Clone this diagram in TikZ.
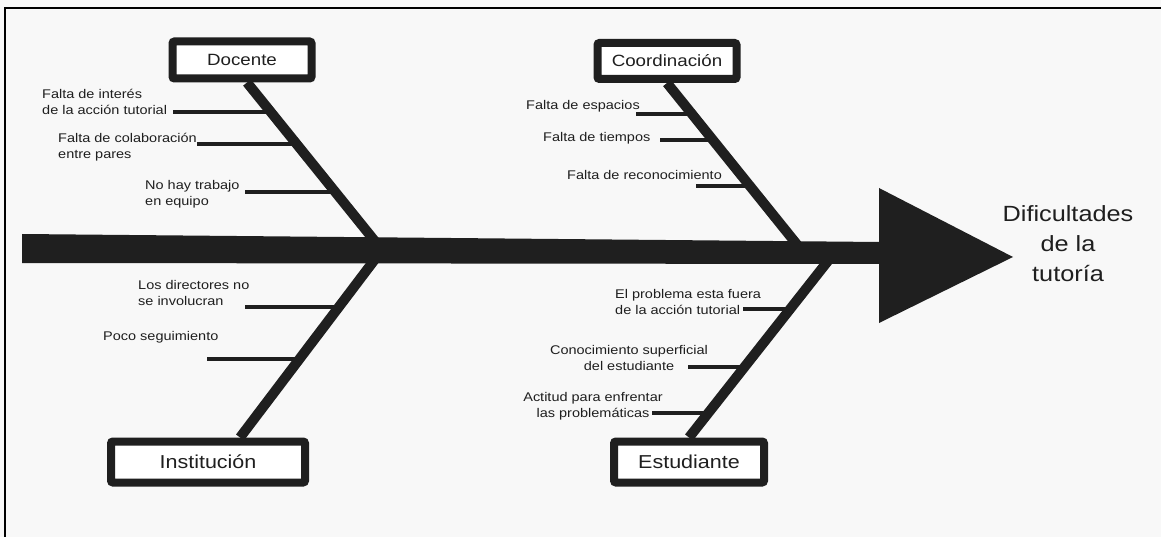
\documentclass[tikz,border=0pt]{standalone}
\usepackage{fontspec}
\setmainfont{Liberation Sans}[FakeStretch=1.15]
\usepackage{tikz}
\usetikzlibrary{calc}
\usetikzlibrary{positioning}
\definecolor{paper}{HTML}{F8F8F8}
\definecolor{ink}{HTML}{1F1F1F}
\tikzset{
    cause/.style={draw=ink, line width=8pt, rounded corners=2pt, fill=white, inner sep=0pt, text=ink},
    bone/.style={draw=ink, line width=10pt},
    twig/.style={draw=ink, line width=4.5pt},
    item/.style={inner sep=0pt, text=ink, font=\fontsize{12.6}{16}\selectfont}
}

\begin{document}
\begin{tikzpicture}[x=10pt,y=-10pt]
            \useasboundingbox (0,0) rectangle (116.1,53.7);
            \fill[paper] (0,0) rectangle (116.1,53.7);
            \draw[line width=2.5pt] (0.5,53.7) -- (0.5,0.8) -- (116.1,0.8);
            % spine and head
            \fill[ink] (2.2,23.4) -- (88,24.2) -- (88,26.4) -- (2.2,26.3) -- cycle;
            \fill[ink] (87.9,18.8) -- (101.3,25.7) -- (87.9,32.3) -- cycle;
            \node[align=center, text=ink, font=\fontsize{22}{30}\selectfont] (eff) at (106.8,24.4) {Dificultades\\de la\\tutoría};
            \coordinate (j1) at (38.2,25.0);
            \coordinate (j2) at (80.3,25.2);
            \coordinate (j3) at (83.5,25.2);
            % causes
            \node[cause, minimum width=139pt, minimum height=37pt, font=\fontsize{16.3}{18}\selectfont] (doc) at (24.2,6.0) {Docente};
            \node[cause, minimum width=139pt, minimum height=36pt, font=\fontsize{16.3}{18}\selectfont] (coo) at (66.7,6.1) {Coordinación};
            \node[cause, minimum width=194pt, minimum height=41pt, font=\fontsize{18.7}{20}\selectfont] (ins) at (20.8,46.2) {Institución};
            \node[cause, minimum width=150pt, minimum height=41pt, font=\fontsize{18.7}{20}\selectfont] (est) at (68.9,46.2) {Estudiante};
            \draw[bone] ($(doc.south)+(0.5,0)$) -- (j1);
            \draw[bone] ($(ins.north)+(3.2,0)$) -- (j1);
            \draw[bone] (coo.south) -- (j2);
            \draw[bone] (est.north) -- (j3);
            % Docente
            \node[item, anchor=west, align=left] (d1t) at (4.2,10.2) {Falta de interés\\de la acción tutorial};
            \node[item, anchor=west, align=left] (d2t) at (5.8,14.7) {Falta de colaboración\\entre pares};
            \node[item, anchor=west, align=left] (d3t) at (14.5,19.4) {No hay trabajo\\en equipo};
            \coordinate (d1a) at (17.3,11.2); \coordinate (d1b) at (27.3,11.2);
            \coordinate (d2a) at (19.7,14.4); \coordinate (d2b) at (29.9,14.4);
            \coordinate (d3a) at (24.5,19.2); \coordinate (d3b) at (33.6,19.2);
            \draw[twig] (d1a) -- (d1b);
            \draw[twig] (d2a) -- (d2b);
            \draw[twig] (d3a) -- (d3b);
            % Coordinacion
            \node[item, anchor=west] (c1t) at (52.6,10.6) {Falta de espacios};
            \node[item, anchor=west] (c2t) at (54.3,13.8) {Falta de tiempos};
            \node[item, anchor=west] (c3t) at (56.7,17.5) {Falta de reconocimiento};
            \coordinate (c1a) at (63.6,11.4); \coordinate (c1b) at (69.4,11.4);
            \coordinate (c2a) at (66.0,14.0); \coordinate (c2b) at (71.5,14.0);
            \coordinate (c3a) at (69.6,18.6); \coordinate (c3b) at (75.1,18.6);
            \draw[twig] (c1a) -- (c1b);
            \draw[twig] (c2a) -- (c2b);
            \draw[twig] (c3a) -- (c3b);
            % Institucion
            \node[item, anchor=west, align=left] (i1t) at (13.8,29.3) {Los directores no\\se involucran};
            \node[item, anchor=west] (i2t) at (10.3,33.7) {Poco seguimiento};
            \coordinate (i1a) at (24.5,30.7); \coordinate (i1b) at (34.0,30.7);
            \coordinate (i2a) at (20.7,35.9); \coordinate (i2b) at (30.1,35.9);
            \draw[twig] (i1a) -- (i1b);
            \draw[twig] (i2a) -- (i2b);
            % Estudiante
            \node[item, anchor=west, align=left] (e1t) at (61.5,30.2) {El problema esta fuera\\de la acción tutorial};
            \node[item, align=center] (e2t) at (62.9,35.8) {Conocimiento superficial\\del estudiante};
            \node[item, align=center] (e3t) at (59.3,40.6) {Actitud para enfrentar\\las problemáticas};
            \coordinate (e1a) at (74.3,30.9); \coordinate (e1b) at (79.1,30.9);
            \coordinate (e2a) at (68.8,36.7); \coordinate (e2b) at (74.6,36.7);
            \coordinate (e3a) at (65.2,41.3); \coordinate (e3b) at (71.1,41.3);
            \draw[twig] (e1a) -- (e1b);
            \draw[twig] (e2a) -- (e2b);
            \draw[twig] (e3a) -- (e3b);
        \end{tikzpicture}
\end{document}
